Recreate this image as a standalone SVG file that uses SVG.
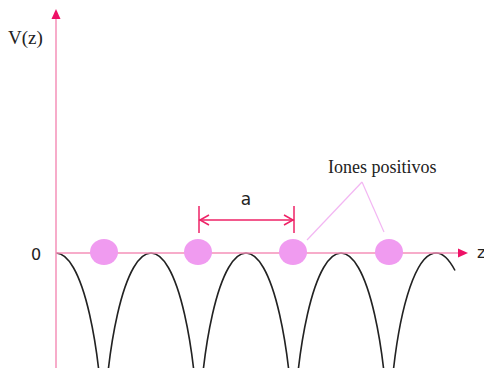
<svg xmlns="http://www.w3.org/2000/svg" width="484" height="368" viewBox="0 0 484 368">
<style>
.axis{stroke:#f590b8;stroke-width:1.5;fill:none}
.head{fill:#ee1166}
.curve{stroke:#222;stroke-width:1.6;fill:none}
.ion{fill:#f09bf0}
.dim{stroke:#ee2266;stroke-width:1.5;fill:none}
.leader{stroke:#f3b6f3;stroke-width:1.2;fill:none}
.serif{font-family:"Liberation Serif","Times New Roman",serif;fill:#222}
.sans{font-family:"DejaVu Sans",Verdana,sans-serif;fill:#222}
</style>
<rect width="484" height="368" fill="#fff"/>
<g id="potential">
<path class="curve" d="M56 253 A47.5 210 0 0 1 103.5 463 M103.5 463 A47.5 210 0 0 1 198.5 463 M198.5 463 A47.5 210 0 0 1 293.5 463 M293.5 463 A47.5 210 0 0 1 388.5 463 M388.5 463 A47.5 210 0 0 1 455 270.5"/>
</g>
<g id="axes">
<line class="axis" x1="56" y1="368" x2="56" y2="17"/>
<polygon class="head" points="56,9 51.5,19 60.5,19"/>
<line class="axis" x1="56" y1="253" x2="460" y2="253"/>
<polygon class="head" points="468,253 458,248.5 458,257.5"/>
</g>
<g id="ion1"><ellipse class="ion" cx="104" cy="252" rx="14" ry="13"/></g>
<g id="ion2"><ellipse class="ion" cx="198" cy="252" rx="14" ry="13"/></g>
<g id="ion3"><ellipse class="ion" cx="293" cy="252" rx="14" ry="13"/></g>
<g id="ion4"><ellipse class="ion" cx="389" cy="252" rx="14" ry="13"/></g>
<g id="connectors">
<line class="leader" x1="362" y1="182" x2="307" y2="240"/>
<line class="leader" x1="362" y1="182" x2="384" y2="232"/>
<g id="dimension">
<line class="dim" x1="199" y1="206" x2="199" y2="233"/>
<line class="dim" x1="294" y1="206" x2="294" y2="233"/>
<line class="dim" x1="199" y1="220" x2="294" y2="220"/>
<polyline class="dim" points="209,215 200,220 209,225"/>
<polyline class="dim" points="284,215 293,220 284,225"/>
</g>
</g>
<g id="labels">
<text class="serif" x="8" y="44" font-size="19">V(z)</text>
<text class="sans" x="31" y="260" font-size="16">0</text>
<text class="sans" x="477" y="258" font-size="16">z</text>
<text class="sans" x="246" y="205" font-size="17" text-anchor="middle">a</text>
<text class="serif" x="328" y="173" font-size="18">Iones positivos</text>
</g>
</svg>
